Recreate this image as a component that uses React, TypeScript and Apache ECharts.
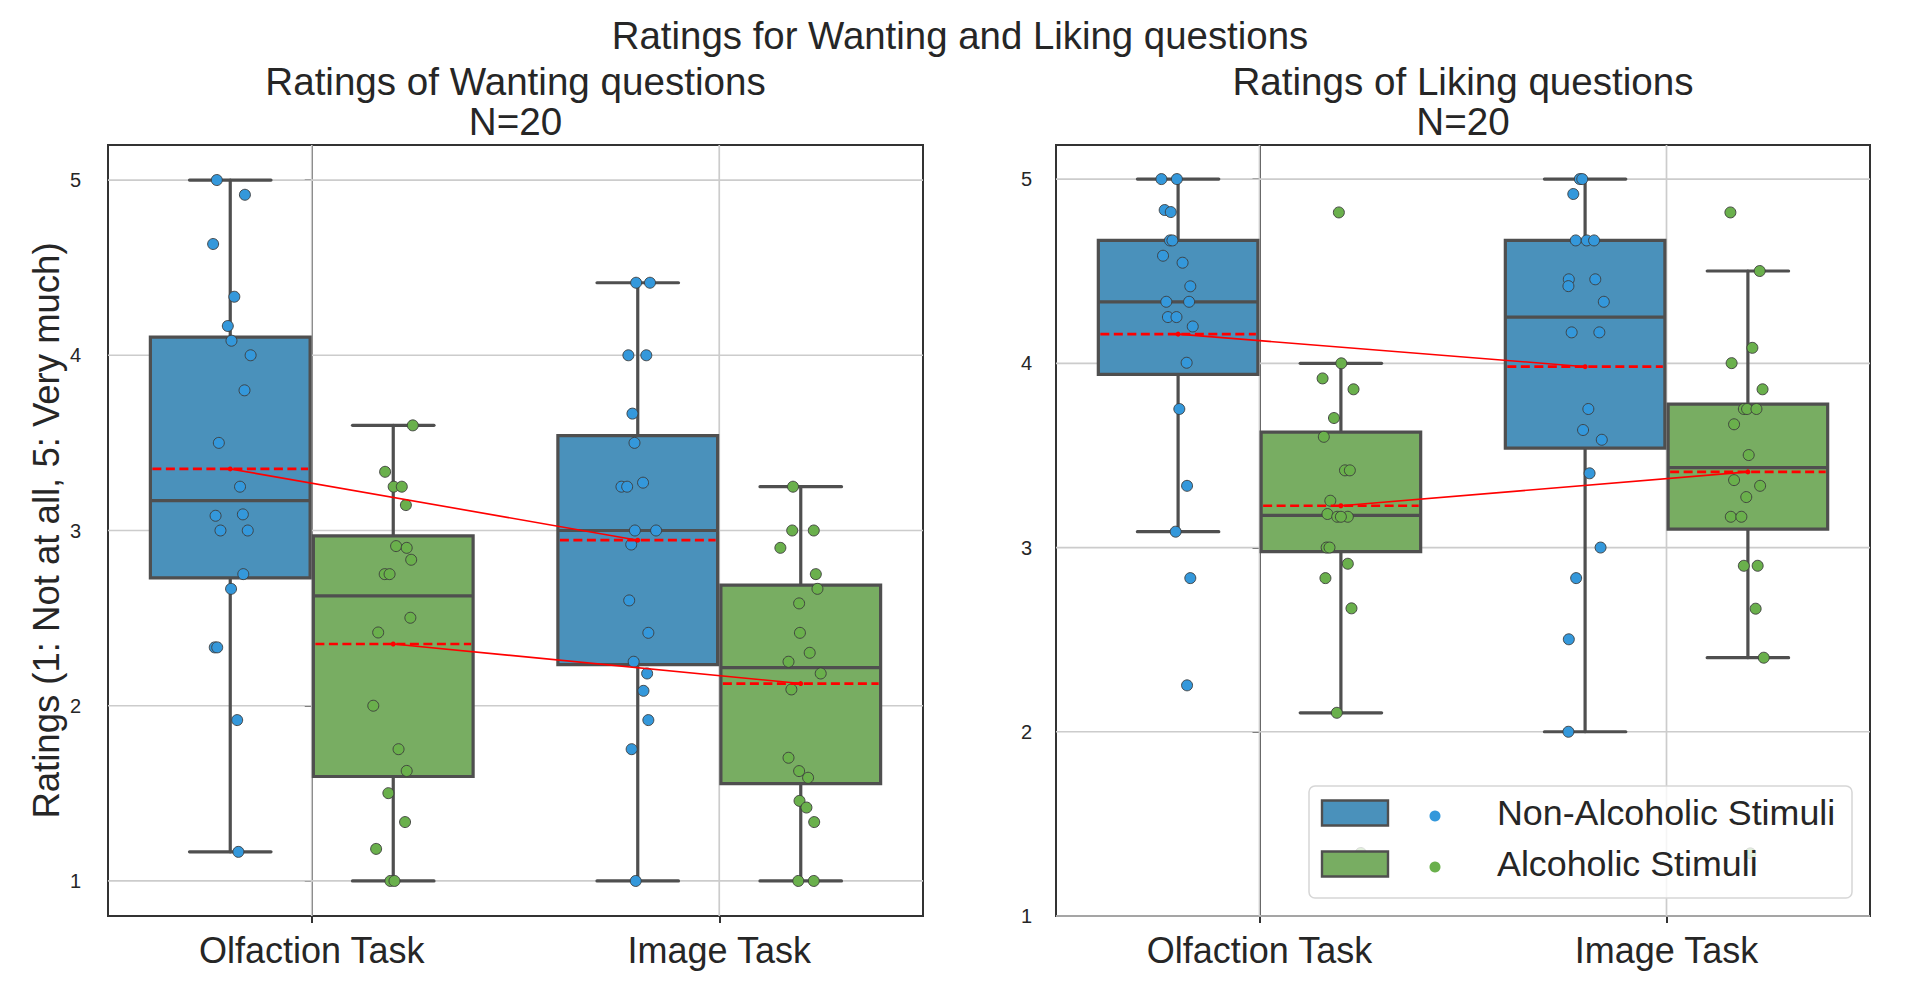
import { useEffect, useRef } from "react";
import * as echarts from "echarts";

// ---------------- data ----------------
const categories = ["Olfaction Task", "Image Task"];
const hueLabels = ["Non-Alcoholic Stimuli", "Alcoholic Stimuli"];
const yTickValues = [1, 2, 3, 4, 5];
const mainTitle = "Ratings for Wanting and Liking questions";
const panelTitles = ["Ratings of Wanting questions\nN=20", "Ratings of Liking questions\nN=20"];
const yAxisTitle = "Ratings (1: Not at all, 5: Very much)";

// Wanting – Olfaction
const wantNonAlcOlf = [5.0, 4.916, 4.635, 4.334, 4.167, 4.083, 4.0, 3.8, 3.5, 3.25, 3.084, 3.092, 3.0, 3.0, 2.751, 2.667, 2.333, 2.333, 1.918, 1.166];
const wantNonAlcOlfJit = [-0.033, 0.036, -0.042, 0.01, -0.006, 0.003, 0.05, 0.035, -0.028, 0.024, -0.036, 0.031, -0.024, 0.043, 0.032, 0.002, -0.038, -0.032, 0.017, 0.02];
const wantAlcOlf = [3.6, 3.335, 3.25, 3.25, 3.145, 2.911, 2.901, 2.833, 2.751, 2.751, 2.502, 2.418, 2.0, 1.752, 1.628, 1.501, 1.336, 1.183, 1.0, 1.0];
const wantAlcOlfJit = [0.048, -0.02, 0.001, 0.021, 0.031, 0.007, 0.033, 0.044, -0.021, -0.009, 0.042, -0.037, -0.049, 0.013, 0.033, -0.012, 0.029, -0.042, -0.007, 0.003];
// Wanting – Image
const wantNonAlcImg = [4.414, 4.414, 4.0, 4.0, 3.667, 3.5, 3.25, 3.25, 3.273, 3.0, 3.0, 2.92, 2.601, 2.416, 2.251, 2.184, 2.085, 1.918, 1.752, 1.0];
const wantNonAlcImgJit = [-0.004, 0.03, -0.023, 0.021, -0.013, -0.008, -0.04, -0.026, 0.013, -0.007, 0.045, -0.016, -0.021, 0.026, -0.01, 0.023, 0.014, 0.026, -0.015, -0.005];
const wantAlcImg = [3.25, 3.0, 3.0, 2.901, 2.751, 2.667, 2.584, 2.416, 2.302, 2.251, 2.184, 2.093, 1.703, 1.627, 1.589, 1.457, 1.419, 1.336, 1.0, 1.0];
const wantAlcImgJit = [-0.019, -0.021, 0.032, -0.05, 0.037, 0.041, -0.004, -0.002, 0.022, -0.03, 0.049, -0.023, -0.03, -0.004, 0.018, -0.003, 0.014, 0.033, -0.006, 0.032];

// Liking – Olfaction
const likeNonAlcOlf = [5.0, 5.0, 4.832, 4.821, 4.667, 4.667, 4.584, 4.546, 4.418, 4.334, 4.334, 4.251, 4.251, 4.2, 4.003, 3.752, 3.335, 3.086, 2.834, 2.252];
const likeNonAlcOlfJit = [-0.041, -0.003, -0.033, -0.018, -0.02, -0.014, -0.037, 0.011, 0.03, -0.029, 0.027, -0.025, -0.004, 0.036, 0.021, 0.003, 0.022, -0.006, 0.03, 0.022];
const likeAlcOlf = [4.819, 4.0, 3.918, 3.859, 3.703, 3.601, 3.419, 3.419, 3.254, 3.182, 3.167, 3.167, 3.167, 3.0, 3.0, 2.912, 2.834, 2.67, 2.103, 1.342];
const likeAlcOlfJit = [-0.005, 0.001, -0.045, 0.031, -0.017, -0.042, 0.01, 0.022, -0.026, -0.033, -0.009, 0.017, 0.0, -0.035, -0.028, 0.017, -0.038, 0.026, -0.01, 0.049];
// Liking – Image
const likeNonAlcImg = [5.0, 5.0, 4.919, 4.667, 4.667, 4.667, 4.456, 4.419, 4.456, 4.334, 4.168, 4.168, 3.752, 3.638, 3.585, 3.403, 3.0, 2.834, 2.502, 2.0];
const likeNonAlcImgJit = [-0.013, -0.007, -0.029, -0.023, 0.004, 0.022, -0.04, -0.041, 0.025, 0.046, -0.033, 0.035, 0.008, -0.005, 0.041, 0.011, 0.038, -0.022, -0.04, -0.041];
const likeAlcImg = [4.819, 4.501, 4.084, 4.001, 3.859, 3.752, 3.752, 3.752, 3.669, 3.502, 3.366, 3.335, 3.274, 3.167, 3.167, 2.901, 2.901, 2.668, 2.402, 1.34];
const likeAlcImgJit = [-0.043, 0.029, 0.011, -0.04, 0.036, -0.01, -0.002, 0.021, -0.034, 0.002, -0.034, 0.03, -0.004, -0.042, -0.016, -0.01, 0.024, 0.019, 0.039, 0.006];

// ---------------- style ----------------
const FONT = "'Liberation Sans', Arial, Helvetica, sans-serif";
const TEXT_COLOR = "#262626";
const FRAME_COLOR = "#333333";
const GRID_COLOR = "#cccccc";
const BOX_EDGE = "#4f4f4f";
const POINT_EDGE = "#3c3c3c";
const POINT_COLORS = ["#3498db", "#6ab04c"];
const BOX_COLORS = ["#4a91bb", "#78ad62"];
const MEAN_COLOR = "#ff0000";
const HUE_OFFSET = [-0.2, 0.2];
const BOX_WIDTH = 0.392;
const CAP_WIDTH = 0.2;

type Group = { values: number[]; jitter: number[] };
const panels: { groups: Group[][]; yMin: number; yMax: number }[] = [
  {
    groups: [
      [{ values: wantNonAlcOlf, jitter: wantNonAlcOlfJit }, { values: wantAlcOlf, jitter: wantAlcOlfJit }],
      [{ values: wantNonAlcImg, jitter: wantNonAlcImgJit }, { values: wantAlcImg, jitter: wantAlcImgJit }],
    ],
    yMin: 0.8,
    yMax: 5.2,
  },
  {
    groups: [
      [{ values: likeNonAlcOlf, jitter: likeNonAlcOlfJit }, { values: likeAlcOlf, jitter: likeAlcOlfJit }],
      [{ values: likeNonAlcImg, jitter: likeNonAlcImgJit }, { values: likeAlcImg, jitter: likeAlcImgJit }],
    ],
    yMin: 1,
    yMax: 5.185,
  },
];

const gridRects = [
  { left: 108, top: 145, width: 815, height: 771 },
  { left: 1056, top: 145, width: 814, height: 771 },
];

function stats(values: number[]) {
  const s = [...values].sort((a, b) => a - b);
  const q = (p: number) => {
    const i = p * (s.length - 1);
    const lo = Math.floor(i);
    const hi = Math.ceil(i);
    return s[lo] + (s[hi] - s[lo]) * (i - lo);
  };
  const q1 = q(0.25);
  const med = q(0.5);
  const q3 = q(0.75);
  const iqr = q3 - q1;
  const lo = s.find((v) => v >= q1 - 1.5 * iqr) as number;
  const hi = [...s].reverse().find((v) => v <= q3 + 1.5 * iqr) as number;
  const mean = s.reduce((a, b) => a + b, 0) / s.length;
  return { q1, med, q3, lo, hi, mean };
}

function panelSeries(p: number) {
  const panel = panels[p];
  const xi = 2 * p + 1;
  const yi = p;
  const out: any[] = [];

  // horizontal grid lines
  out.push({
    type: "custom",
    xAxisIndex: xi,
    yAxisIndex: yi,
    z: 1,
    silent: true,
    data: yTickValues.map((v) => [0.5, v]),
    renderItem: (params: any, api: any) => {
      const cs = params.coordSys;
      const pt = api.coord([api.value(0), api.value(1)]);
      return {
        type: "line",
        shape: { x1: cs.x, y1: pt[1], x2: cs.x + cs.width, y2: pt[1] },
        style: { stroke: GRID_COLOR, lineWidth: 1.7 },
      };
    },
  });
  // vertical grid lines at category centres
  out.push({
    type: "custom",
    xAxisIndex: xi,
    yAxisIndex: yi,
    z: 1,
    silent: true,
    data: categories.map((_, i) => [i, panel.yMin]),
    renderItem: (params: any, api: any) => {
      const cs = params.coordSys;
      const pt = api.coord([api.value(0), api.value(1)]);
      return {
        type: "line",
        shape: { x1: pt[0], y1: cs.y, x2: pt[0], y2: cs.y + cs.height },
        style: { stroke: GRID_COLOR, lineWidth: 1.7 },
      };
    },
  });

  // boxes
  const boxData: number[][] = [];
  const meanData: number[][] = [];
  panel.groups.forEach((row, c) =>
    row.forEach((g, h) => {
      const st = stats(g.values);
      boxData.push([c + HUE_OFFSET[h], st.lo, st.q1, st.med, st.q3, st.hi, h]);
      meanData.push([c + HUE_OFFSET[h], st.mean]);
    })
  );
  out.push({
    type: "custom",
    xAxisIndex: xi,
    yAxisIndex: yi,
    z: 2,
    silent: true,
    data: boxData,
    renderItem: (_params: any, api: any) => {
      const x = api.value(0);
      const lo = api.value(1);
      const q1 = api.value(2);
      const med = api.value(3);
      const q3 = api.value(4);
      const hi = api.value(5);
      const h = api.value(6);
      const half = BOX_WIDTH / 2;
      const ch = CAP_WIDTH / 2;
      const tl = api.coord([x - half, q3]);
      const br = api.coord([x + half, q1]);
      const mL = api.coord([x - half, med]);
      const mR = api.coord([x + half, med]);
      const top = api.coord([x, hi]);
      const bot = api.coord([x, lo]);
      const capL = api.coord([x - ch, hi]);
      const capR = api.coord([x + ch, hi]);
      const capLb = api.coord([x - ch, lo]);
      const capRb = api.coord([x + ch, lo]);
      const lineStyle = { stroke: BOX_EDGE, lineWidth: 3.2, lineCap: "round" };
      return {
        type: "group",
        children: [
          { type: "line", shape: { x1: top[0], y1: top[1], x2: top[0], y2: tl[1] }, style: lineStyle },
          { type: "line", shape: { x1: bot[0], y1: bot[1], x2: bot[0], y2: br[1] }, style: lineStyle },
          { type: "line", shape: { x1: capL[0], y1: capL[1], x2: capR[0], y2: capR[1] }, style: lineStyle },
          { type: "line", shape: { x1: capLb[0], y1: capLb[1], x2: capRb[0], y2: capRb[1] }, style: lineStyle },
          {
            type: "rect",
            shape: { x: tl[0], y: tl[1], width: br[0] - tl[0], height: br[1] - tl[1] },
            style: { fill: BOX_COLORS[h], stroke: BOX_EDGE, lineWidth: 3.2 },
          },
          { type: "line", shape: { x1: mL[0], y1: mL[1], x2: mR[0], y2: mR[1] }, style: { stroke: BOX_EDGE, lineWidth: 3.2 } },
        ],
      };
    },
  });

  // strip points
  [0, 1].forEach((h) => {
    const data: number[][] = [];
    panel.groups.forEach((row, c) => {
      const g = row[h];
      g.values.forEach((v, k) => data.push([c + HUE_OFFSET[h] + g.jitter[k], v]));
    });
    out.push({
      type: "scatter",
      name: hueLabels[h],
      xAxisIndex: xi,
      yAxisIndex: yi,
      z: 3,
      symbol: "circle",
      symbolSize: 11,
      silent: true,
      itemStyle: { color: POINT_COLORS[h], borderColor: POINT_EDGE, borderWidth: 0.9, opacity: 1 },
      data,
    });
  });

  // dashed mean lines across boxes
  out.push({
    type: "custom",
    xAxisIndex: xi,
    yAxisIndex: yi,
    z: 4,
    silent: true,
    data: meanData,
    renderItem: (_params: any, api: any) => {
      const x = api.value(0);
      const m = api.value(1);
      const a = api.coord([x - BOX_WIDTH / 2, m]);
      const b = api.coord([x + BOX_WIDTH / 2, m]);
      return {
        type: "line",
        shape: { x1: a[0] + 2, y1: a[1], x2: b[0] - 2, y2: b[1] },
        style: { stroke: MEAN_COLOR, lineWidth: 2.7, lineDash: [9, 4.5] },
      };
    },
  });

  // lines joining means of the same stimulus type
  [0, 1].forEach((h) => {
    out.push({
      type: "line",
      xAxisIndex: xi,
      yAxisIndex: yi,
      z: 5,
      silent: true,
      symbol: "circle",
      symbolSize: 5,
      itemStyle: { color: MEAN_COLOR },
      lineStyle: { color: MEAN_COLOR, width: 1.6 },
      data: meanData.filter((_, i) => i % 2 === h),
    });
  });
  return out;
}

function buildOption() {
  const xAxis: any[] = [];
  const yAxis: any[] = [];
  gridRects.forEach((_, p) => {
    xAxis.push({
      type: "category",
      gridIndex: p,
      data: categories,
      boundaryGap: true,
      axisLine: { show: true, lineStyle: { color: FRAME_COLOR, width: 2 } },
      axisTick: { show: true, alignWithLabel: true, length: 7, lineStyle: { color: FRAME_COLOR, width: 2 } },
      axisLabel: { fontSize: 36, fontFamily: FONT, color: TEXT_COLOR, margin: 16 },
      splitLine: { show: false },
    });
    xAxis.push({ type: "value", gridIndex: p, min: -0.5, max: 1.5, show: false, splitLine: { show: false } });
    yAxis.push({
      type: "value",
      gridIndex: p,
      min: panels[p].yMin,
      max: panels[p].yMax,
      axisLine: { show: true, lineStyle: { color: FRAME_COLOR, width: 2 } },
      axisTick: { show: true, length: 7, customValues: yTickValues, lineStyle: { color: FRAME_COLOR, width: 2 } },
      axisLabel: { customValues: yTickValues, fontSize: 20, fontFamily: FONT, color: TEXT_COLOR, margin: p === 0 ? 27 : 24 },
      splitLine: { show: false },
      name: p === 0 ? yAxisTitle : "",
      nameLocation: "middle",
      nameRotate: 90,
      nameGap: 43,
      nameTextStyle: { fontSize: 36.5, fontFamily: FONT, color: TEXT_COLOR },
    });
  });

  const legendX = 1309;
  const legendY = 786;
  const legendRows = [813, 864];
  const LZ = 100;
  const legendChildren: any[] = [
    {
      type: "rect",
      z: LZ,
      shape: { x: legendX, y: legendY, width: 543, height: 112, r: 6 },
      style: { fill: "rgba(255,255,255,0.8)", stroke: "#d6d6d6", lineWidth: 1.5 },
    },
  ];
  hueLabels.forEach((label, h) => {
    const cy = legendRows[h];
    legendChildren.push({
      type: "rect",
      z: LZ + 1,
      shape: { x: 1322, y: cy - 12.5, width: 66, height: 25 },
      style: { fill: BOX_COLORS[h], stroke: BOX_EDGE, lineWidth: 2.4 },
    });
    legendChildren.push({
      type: "circle",
      z: LZ + 1,
      shape: { cx: 1435, cy: cy + 3, r: 5.5 },
      style: { fill: POINT_COLORS[h] },
    });
    legendChildren.push({
      type: "text",
      z: LZ + 1,
      x: 1497,
      y: cy,
      style: {
        text: label,
        fontSize: 35.8,
        fontFamily: FONT,
        fill: TEXT_COLOR,
        align: "left",
        verticalAlign: "middle",
        textAlign: "left",
        textVerticalAlign: "middle",
      },
    });
  });

  const centeredText = (text: string, x: number, y: number, size: number, lineHeight?: number) => ({
    type: "text",
    x,
    y,
    style: {
      text,
      fontSize: size,
      fontFamily: FONT,
      fill: TEXT_COLOR,
      lineHeight,
      align: "center",
      verticalAlign: "middle",
      textAlign: "center",
      textVerticalAlign: "middle",
    },
  });

  return {
    animation: false,
    backgroundColor: "#ffffff",
    grid: gridRects.map((g) => ({ ...g, show: true, borderColor: FRAME_COLOR, borderWidth: 2, backgroundColor: "transparent" })),
    xAxis,
    yAxis,
    series: [...panelSeries(0), ...panelSeries(1)],
    graphic: [
      centeredText(mainTitle, 960, 35, 38.4),
      centeredText(panelTitles[0], 515.5, 101, 38.6, 40),
      centeredText(panelTitles[1], 1463, 101, 38.6, 40),
      { type: "group", z: LZ, children: legendChildren },
    ],
  };
}

export default function App() {
  const ref = useRef<HTMLDivElement>(null);
  useEffect(() => {
    if (!ref.current) return;
    const chart = echarts.init(ref.current, null, { renderer: "svg" });
    chart.setOption(buildOption() as any);
    return () => chart.dispose();
  }, []);
  return (
    <div
      ref={ref}
      style={{ position: "absolute", left: 0, top: 0, width: 1920, height: 985, background: "#fff" }}
    />
  );
}
